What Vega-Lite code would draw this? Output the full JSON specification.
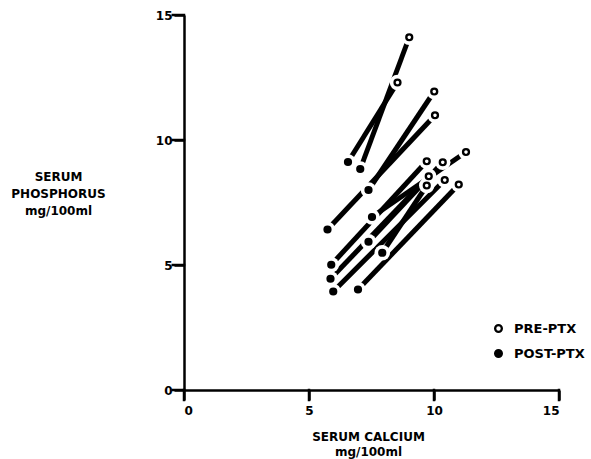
{
  "$schema": "https://vega.github.io/schema/vega-lite/v6.json",
  "autosize": {"type": "none"},
  "width": 375,
  "height": 375,
  "padding": {"left": 184, "top": 15, "right": 32, "bottom": 69},
  "background": "white",
  "config": {
    "view": {"stroke": null},
    "font": "DejaVu Sans",
    "axis": {
      "grid": false,
      "ticks": true,
      "tickSize": 10,
      "tickWidth": 2.5,
      "tickColor": "black",
      "domainColor": "black",
      "domainWidth": 2.5,
      "labelFont": "DejaVu Sans",
      "labelFontWeight": "bold",
      "labelFontSize": 12,
      "labelColor": "black",
      "titleFont": "DejaVu Sans",
      "titleFontWeight": "bold",
      "titleFontSize": 12,
      "titleColor": "black"
    }
  },
  "datasets": {
    "pairs": [
      {"id": 1, "status": "PRE-PTX", "ca": 9.01, "p": 14.11},
      {"id": 1, "status": "POST-PTX", "ca": 7.05, "p": 8.84},
      {"id": 2, "status": "PRE-PTX", "ca": 8.54, "p": 12.30},
      {"id": 2, "status": "POST-PTX", "ca": 6.56, "p": 9.12},
      {"id": 3, "status": "PRE-PTX", "ca": 10.01, "p": 11.94},
      {"id": 3, "status": "POST-PTX", "ca": 7.38, "p": 8.00},
      {"id": 4, "status": "PRE-PTX", "ca": 10.04, "p": 10.99},
      {"id": 4, "status": "POST-PTX", "ca": 5.74, "p": 6.42},
      {"id": 5, "status": "PRE-PTX", "ca": 11.28, "p": 9.52},
      {"id": 5, "status": "POST-PTX", "ca": 7.52, "p": 6.92},
      {"id": 6, "status": "PRE-PTX", "ca": 9.71, "p": 9.15},
      {"id": 6, "status": "POST-PTX", "ca": 5.89, "p": 5.01},
      {"id": 7, "status": "PRE-PTX", "ca": 10.35, "p": 9.11},
      {"id": 7, "status": "POST-PTX", "ca": 7.38, "p": 5.93},
      {"id": 8, "status": "PRE-PTX", "ca": 9.79, "p": 8.55},
      {"id": 8, "status": "POST-PTX", "ca": 5.86, "p": 4.45},
      {"id": 9, "status": "PRE-PTX", "ca": 9.71, "p": 8.18},
      {"id": 9, "status": "POST-PTX", "ca": 7.93, "p": 5.49},
      {"id": 10, "status": "PRE-PTX", "ca": 10.43, "p": 8.40},
      {"id": 10, "status": "POST-PTX", "ca": 5.97, "p": 3.94},
      {"id": 11, "status": "PRE-PTX", "ca": 10.99, "p": 8.22},
      {"id": 11, "status": "POST-PTX", "ca": 6.96, "p": 4.02}
    ],
    "ticks": [
      {"t": 0}, {"t": 5}, {"t": 10}, {"t": 15}
    ]
  },
  "layer": [
    {
      "data": {"name": "ticks"},
      "mark": {"type": "rule", "color": "black", "strokeWidth": 2.5, "strokeCap": "square"},
      "encoding": {
        "x": {
          "field": "t", "type": "quantitative",
          "scale": {"domain": [0, 15], "nice": false, "zero": false},
          "axis": {
            "values": [0, 5, 10, 15],
            "labelPadding": 5,
            "title": ["SERUM  CALCIUM", "mg/100ml"],
            "titleAlign": "center",
            "titleBaseline": "alphabetic",
            "titleX": 184,
            "titleY": 50,
            "titleLineHeight": 15
          }
        },
        "y": {
          "datum": 0, "type": "quantitative",
          "scale": {"domain": [0, 15], "nice": false, "zero": false},
          "axis": {
            "values": [0, 5, 10, 15],
            "labelPadding": 2,
            "title": ["SERUM", "PHOSPHORUS", "mg/100ml"],
            "titleAngle": 0,
            "titleAlign": "center",
            "titleBaseline": "alphabetic",
            "titleX": -126,
            "titleY": 165,
            "titleLineHeight": 17
          }
        },
        "y2": {"datum": -0.4}
      }
    },
    {
      "data": {"name": "ticks"},
      "mark": {"type": "rule", "color": "black", "strokeWidth": 2.5, "strokeCap": "square"},
      "encoding": {
        "y": {"field": "t", "type": "quantitative"},
        "x": {"datum": 0, "type": "quantitative"},
        "x2": {"datum": -0.45}
      }
    },
    {
      "data": {"name": "pairs"},
      "mark": {"type": "line", "color": "black", "strokeWidth": 5, "strokeCap": "butt"},
      "encoding": {
        "x": {"field": "ca", "type": "quantitative"},
        "y": {"field": "p", "type": "quantitative"},
        "detail": {"field": "id", "type": "nominal"}
      }
    },
    {
      "data": {"name": "pairs"},
      "mark": {"type": "point", "shape": "circle", "filled": true, "color": "white", "size": 240, "opacity": 1},
      "encoding": {
        "x": {"field": "ca", "type": "quantitative"},
        "y": {"field": "p", "type": "quantitative"}
      }
    },
    {
      "data": {"name": "pairs"},
      "mark": {"type": "point", "shape": "circle", "filled": true, "stroke": "black", "strokeWidth": 2.4, "size": 34, "opacity": 1},
      "encoding": {
        "x": {"field": "ca", "type": "quantitative"},
        "y": {"field": "p", "type": "quantitative"},
        "fill": {
          "field": "status", "type": "nominal",
          "scale": {"domain": ["PRE-PTX", "POST-PTX"], "range": ["white", "black"]},
          "legend": {
            "title": null,
            "orient": "none",
            "legendX": 308,
            "legendY": 307,
            "symbolType": "circle",
            "symbolSize": 45,
            "symbolStrokeColor": "black",
            "symbolStrokeWidth": 2.3,
            "labelFont": "DejaVu Sans",
            "labelFontWeight": "bold",
            "labelFontSize": 13,
            "labelColor": "black",
            "labelOffset": 9,
            "rowPadding": 8
          }
        }
      }
    }
  ]
}
